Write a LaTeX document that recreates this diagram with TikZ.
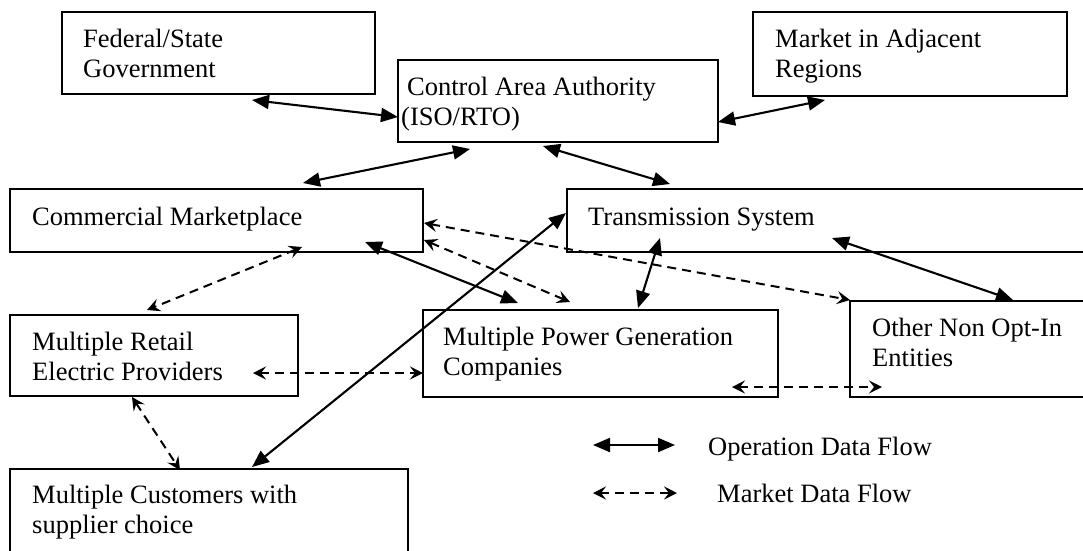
\documentclass[tikz,border=0pt]{standalone}
\usepackage{fontspec}
\setmainfont{Liberation Serif}
\usetikzlibrary{arrows.meta}

% two stacked lines; the baseline is that of the first line
\newcommand{\twolines}[2]{\vtop{\hbox{#1}\hbox{#2}}}

\begin{document}
\begin{tikzpicture}[x=1pt,y=-1pt,
  box/.style={draw, line width=2.2pt, anchor=north west, inner sep=0pt, outer sep=0pt},
  lbl/.style={anchor=base west, inner sep=0pt, font=\fontsize{26.5}{30}\selectfont},
  op/.style={line width=2.1pt, {Triangle[length=17pt,width=14pt]}-{Triangle[length=17pt,width=14pt]}},
  mk/.style={line width=2pt, dash pattern=on 9pt off 6pt,
    {Stealth[length=13pt,width=13pt,inset=5pt]}-{Stealth[length=13pt,width=13pt,inset=5pt]}}]
\useasboundingbox (0,0) rectangle (1083,550);

% boxes
\node[box, minimum width=313pt, minimum height=82pt] (fed) at (62,12) {};
\node[box, minimum width=320pt, minimum height=82pt] (ca) at (398,60) {};
\node[box, minimum width=314pt, minimum height=84pt] (mkt) at (753,12) {};
\node[box, minimum width=413pt, minimum height=63pt] (com) at (10,189) {};
\node[box, minimum width=530pt, minimum height=63pt] (trans) at (567,189) {};
\node[box, minimum width=288pt, minimum height=81pt] (ret) at (10,315) {};
\node[box, minimum width=355pt, minimum height=87pt] (gen) at (423,310) {};
\node[box, minimum width=250pt, minimum height=96pt] (oth) at (850,301) {};
\node[box, minimum width=398pt, minimum height=100pt] (cus) at (10,469) {};

% box texts
\node[lbl] (fedt) at (83,47) {\twolines{Federal/State}{Government}};
\node[lbl] (cat) at (401,95) {\twolines{\kern6pt Control Area Authority}{(ISO/RTO)}};
\node[lbl] (mktt) at (775,47) {\twolines{Market in Adjacent}{Regions}};
\node[lbl] (comt) at (32,225) {Commercial Marketplace};
\node[lbl] (transt) at (588,225) {Transmission System};
\node[lbl] (rett) at (32,350) {\twolines{Multiple Retail}{Electric Providers}};
\node[lbl] (gent) at (443,345) {\twolines{Multiple Power Generation}{Companies}};
\node[lbl] (otht) at (872,336) {\twolines{Other Non Opt-In}{Entities}};
\node[lbl] (cust) at (32,503) {\twolines{Multiple Customers with}{supplier choice}};

% connector end points
\coordinate (fed-ca) at (252,100);   \coordinate (ca-fed) at (398,117);
\coordinate (ca-mkt) at (718,122);   \coordinate (mkt-ca) at (825,100);
\coordinate (com-ca) at (303,183);   \coordinate (ca-com) at (470,149);
\coordinate (ca-tr) at (543,146);    \coordinate (tr-ca) at (670,184);
\coordinate (com-ret) at (302,247);  \coordinate (ret-com) at (147,310);
\coordinate (com-gen) at (365,242);  \coordinate (gen-com) at (518,303);
\coordinate (com-gen2) at (424,240); \coordinate (gen-com2) at (570,302);
\coordinate (com-oth) at (424,223);  \coordinate (oth-com) at (850,300);
\coordinate (tr-gen) at (660,238);   \coordinate (gen-tr) at (638,308);
\coordinate (tr-oth) at (832,238);   \coordinate (oth-tr) at (1013,300);
\coordinate (tr-cus) at (566,213);   \coordinate (cus-tr) at (252,467);
\coordinate (ret-gen) at (253,373);  \coordinate (gen-ret) at (423,373);
\coordinate (ret-cus) at (132,397);  \coordinate (cus-ret) at (180,470);
\coordinate (gen-oth) at (732,387);  \coordinate (oth-gen) at (882,387);

% operation data flows
\draw[op] (fed-ca) -- (ca-fed);
\draw[op] (ca-mkt) -- (mkt-ca);
\draw[op] (com-ca) -- (ca-com);
\draw[op] (ca-tr) -- (tr-ca);
\draw[op] (com-gen) -- (gen-com);
\draw[op] (tr-gen) -- (gen-tr);
\draw[op] (tr-oth) -- (oth-tr);
\draw[op] (tr-cus) -- (cus-tr);

% market data flows
\draw[mk] (com-ret) -- (ret-com);
\draw[mk] (com-gen2) -- (gen-com2);
\draw[mk] (com-oth) -- (oth-com);
\draw[mk] (ret-gen) -- (gen-ret);
\draw[mk] (ret-cus) -- (cus-ret);
\draw[mk] (gen-oth) -- (oth-gen);

% legend
\coordinate (lg-op-a) at (593,445);  \coordinate (lg-op-b) at (675,445);
\coordinate (lg-mk-a) at (593,493);  \coordinate (lg-mk-b) at (677,493);
\draw[op] (lg-op-a) -- (lg-op-b);
\draw[mk] (lg-mk-a) -- (lg-mk-b);
\node[lbl] (lg-op) at (708,455) {Operation Data Flow};
\node[lbl] (lg-mk) at (717,502) {Market Data Flow};
\end{tikzpicture}
\end{document}
